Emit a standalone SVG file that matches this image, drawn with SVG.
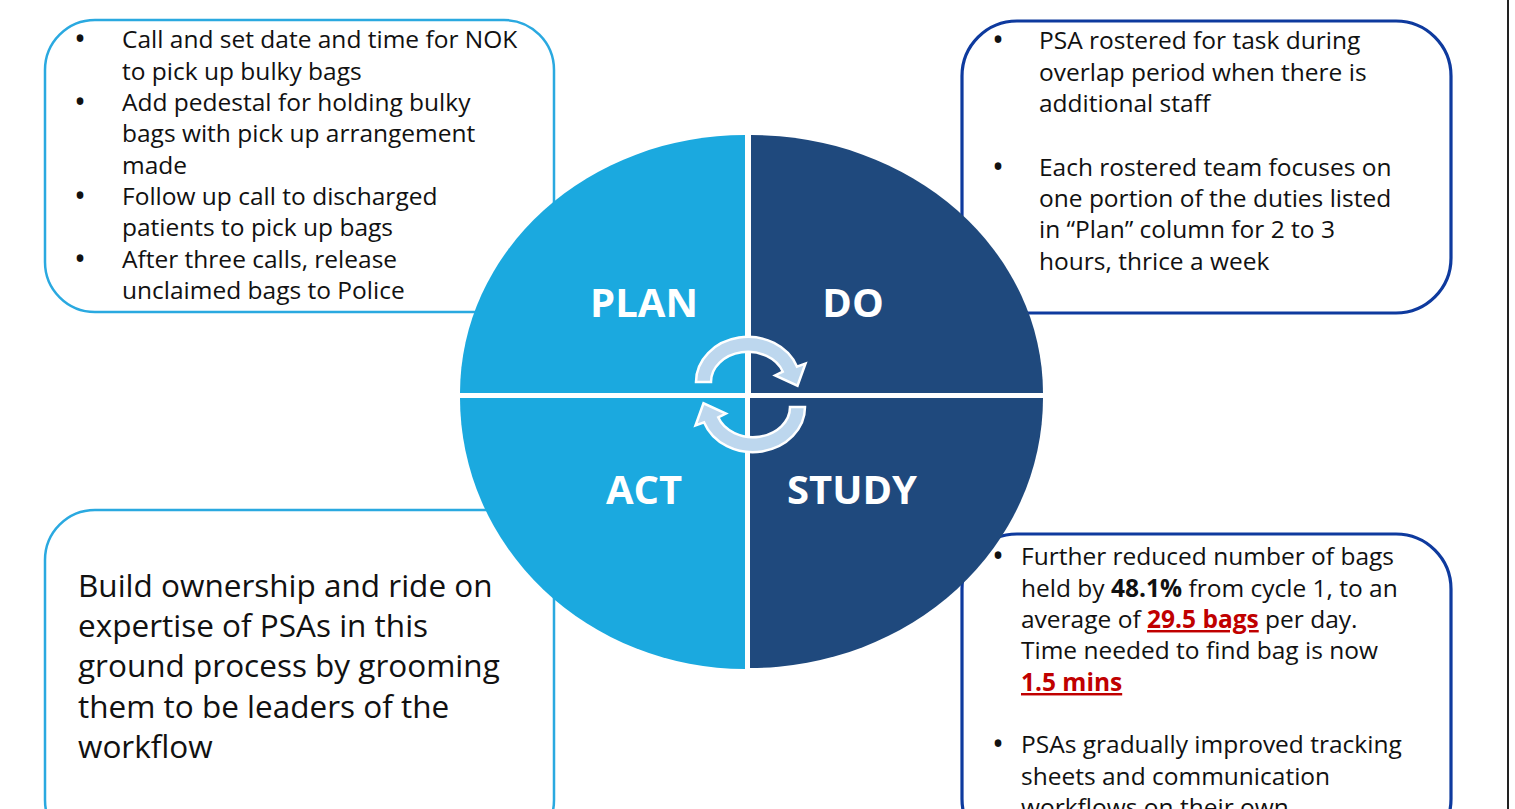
<svg xmlns="http://www.w3.org/2000/svg" width="1515" height="809" viewBox="0 0 1515 809">
<style>
.bg{fill:#ffffff}
.boxL{fill:#ffffff;stroke:#2AA9E0;stroke-width:2.5}
.boxD{fill:#ffffff;stroke:#0E3A9E;stroke-width:3.2}
.t{font-family:"Open Sans","Noto Sans",sans-serif;font-size:24.5px;fill:#111111}
.bu{font-family:"Open Sans","Noto Sans",sans-serif;font-size:32px;fill:#111111;text-anchor:middle}
.tb{font-family:"Open Sans","Noto Sans",sans-serif;font-size:31.5px;fill:#111111}
.lbl{font-family:"Open Sans","Noto Sans",sans-serif;font-size:40px;font-weight:700;fill:#ffffff;text-anchor:middle}
.light{fill:#1BA9DF}
.dark{fill:#1F497D}
.cyc{fill:#BDD7EE;stroke:#ffffff;stroke-width:2.5;stroke-linejoin:miter}
.b{font-weight:700}
.red{font-weight:700;fill:#C00000;text-decoration:underline}
</style>
<rect class="bg" x="0" y="0" width="1515" height="809"/>
<line x1="1508" y1="0" x2="1508" y2="809" stroke="#222222" stroke-width="2"/>

<g id="plan-box">
<rect class="boxL" x="45" y="20" width="509" height="292" rx="50" ry="50"/>
<text class="bu" x="80" y="50">•</text><text class="t" x="122" y="48">Call and set date and time for NOK</text>
<text class="t" x="122" y="80">to pick up bulky bags</text>
<text class="bu" x="80" y="113">•</text><text class="t" x="122" y="111">Add pedestal for holding bulky</text>
<text class="t" x="122" y="142">bags with pick up arrangement</text>
<text class="t" x="122" y="174">made</text>
<text class="bu" x="80" y="207">•</text><text class="t" x="122" y="205">Follow up call to discharged</text>
<text class="t" x="122" y="236">patients to pick up bags</text>
<text class="bu" x="80" y="270">•</text><text class="t" x="122" y="268">After three calls, release</text>
<text class="t" x="122" y="299">unclaimed bags to Police</text>
</g>

<g id="do-box">
<rect class="boxD" x="962" y="21" width="489" height="292" rx="55" ry="55"/>
<text class="bu" x="998" y="51">•</text><text class="t" x="1039" y="49">PSA rostered for task during</text>
<text class="t" x="1039" y="81">overlap period when there is</text>
<text class="t" x="1039" y="112">additional staff</text>
<text class="bu" x="998" y="178">•</text><text class="t" x="1039" y="176">Each rostered team focuses on</text>
<text class="t" x="1039" y="207">one portion of the duties listed</text>
<text class="t" x="1039" y="238">in “Plan” column for 2 to 3</text>
<text class="t" x="1039" y="270">hours, thrice a week</text>
</g>

<g id="act-box">
<rect class="boxL" x="45" y="510" width="509" height="340" rx="50" ry="50"/>
<text class="tb" x="78" y="597">Build ownership and ride on</text>
<text class="tb" x="78" y="637">expertise of PSAs in this</text>
<text class="tb" x="78" y="677">ground process by grooming</text>
<text class="tb" x="78" y="718">them to be leaders of the</text>
<text class="tb" x="78" y="758">workflow</text>
</g>

<g id="study-box">
<rect class="boxD" x="962" y="534" width="489" height="320" rx="55" ry="55"/>
<text class="bu" x="998" y="567">•</text><text class="t" x="1021" y="565">Further reduced number of bags</text>
<text class="t" x="1021" y="597">held by <tspan class="b">48.1%</tspan> from cycle 1, to an</text>
<text class="t" x="1021" y="628">average of <tspan class="red">29.5 bags</tspan> per day.</text>
<text class="t" x="1021" y="659">Time needed to find bag is now</text>
<text class="t" x="1021" y="691"><tspan class="red">1.5 mins</tspan></text>
<text class="bu" x="998" y="755">•</text><text class="t" x="1021" y="753">PSAs gradually improved tracking</text>
<text class="t" x="1021" y="785">sheets and communication</text>
<text class="t" x="1021" y="816">workflows on their own</text>
</g>

<g id="pdsa-cycle">
<g id="plan"><path class="light" d="M745,393 L460,393 A285,258 0 0 1 745,135 Z"/><text class="lbl" x="644" y="317">PLAN</text></g>
<g id="do"><path class="dark" d="M751,393 L751,135 A292,258 0 0 1 1043,393 Z"/><text class="lbl" x="853" y="317">DO</text></g>
<g id="act"><path class="light" d="M745,398 L745,669 A285,271 0 0 1 460,398 Z"/><text class="lbl" x="644" y="504">ACT</text></g>
<g id="study"><path class="dark" d="M750,398 L1043,398 A293,270 0 0 1 750,668 Z"/><text class="lbl" x="852" y="504">STUDY</text></g>
</g>

<g id="connectors">
<path class="cyc" d="M696,382 A52,45 0 0 1 796.9,366.6 L805.5,363.5 L797.5,385.7 L775.1,375.5 L782.8,371.7 A37,30 0 0 0 711,382 Z"/>
<path class="cyc" transform="rotate(180 750.5 394.5)" d="M696,382 A52,45 0 0 1 796.9,366.6 L805.5,363.5 L797.5,385.7 L775.1,375.5 L782.8,371.7 A37,30 0 0 0 711,382 Z"/>
</g>
</svg>
